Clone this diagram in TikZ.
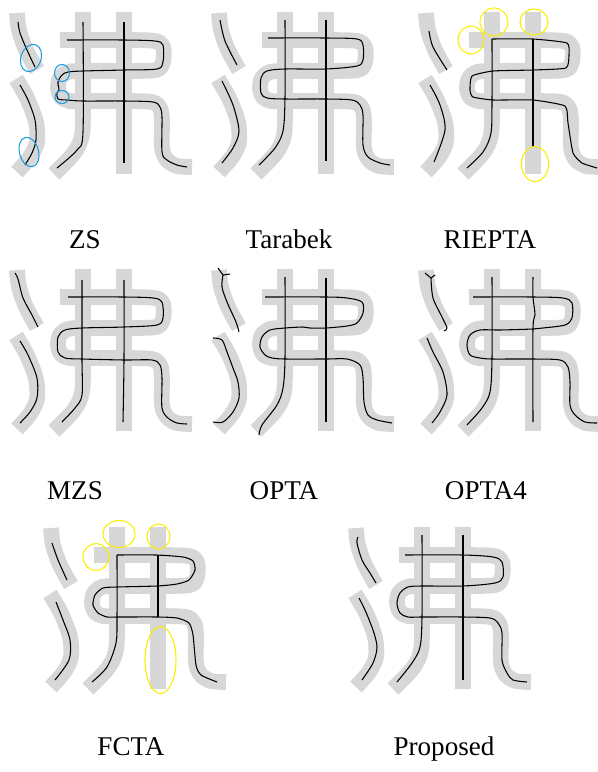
\documentclass[tikz,border=0pt]{standalone}
\usepackage{fontspec}
\setmainfont{Liberation Serif}

\definecolor{strokegray}{RGB}{215,215,215}
\definecolor{ringblue}{RGB}{30,155,225}
\definecolor{ringyellow}{RGB}{250,238,0}

% the grey character strokes, same in every panel
\newcommand{\glyphink}{%
  \draw[ink] plot[smooth,tension=0.5] coordinates {(17,13) (19,30) (26,50) (37,70)};
  \draw[ink] plot[smooth,tension=0.5] coordinates {(16,79) (27,98) (36,122) (37,142) (30,157) (17,172)};
  \draw[ink] plot[smooth,tension=0.5] coordinates {(83,12) (83,100) (82,135) (74,153) (54,174)};
  \draw[ink] (124,12) -- (124,174);
  \draw[ink] plot[smooth,tension=0.5] coordinates {(60,40) (124,40) (155,41) (163,47) (163,62) (156,70)
    (124,71) (83,71) (68,72) (60,78) (58,88) (61,97) (69,101) (83,101) (124,101) (152,102) (160,108)
    (162,120) (162,148) (167,160) (177,166) (192,167)};
}

\begin{document}
\begin{tikzpicture}[x=0.75pt,y=-0.75pt,
    ink/.style={line width=11.8pt,strokegray,line cap=butt,line join=round},
    skel/.style={line width=0.8pt,black,line join=round},
    bluering/.style={line width=0.8pt,ringblue},
    yellowring/.style={line width=0.8pt,ringyellow},
    lbl/.style={font=\fontsize{20.3}{24}\selectfont,anchor=base,inner sep=0pt}]
  \useasboundingbox (0,0) rectangle (597,772);

  % ZS
  \begin{scope}
    \glyphink
    \draw[skel] plot[smooth,tension=0.5] coordinates {(18,22) (20,33) (27,50) (35,67)};
    \draw[skel] plot[smooth,tension=0.5] coordinates {(20,85) (28,100) (35,120) (36,140) (32,153) (25,165)};
    \draw[skel] plot[smooth,tension=0.5] coordinates {(83,22) (83,132) (77,150) (57,168)};
    \draw[skel] (124,22) -- (124,163);
    \draw[skel] plot[smooth,tension=0.5] coordinates {(67,40) (124,40) (155,41) (163,45) (163,62) (157,69)
      (124,70) (83,71) (68,72) (62,75) (58,82) (59,90) (57,93) (58,99) (67,100) (83,101) (124,101)
      (153,102) (160,107) (162,117) (162,152) (167,160) (177,165) (187,167)};
    \draw[bluering,rotate around={-20:(31,58)}] (31,58) ellipse [x radius=10, y radius=14];
    \draw[bluering] (62,73) ellipse [x radius=7.5, y radius=8.5];
    \draw[bluering] (62,97) ellipse [x radius=7, y radius=6.5];
    \draw[bluering,rotate around={15:(29,152)}] (29,152) ellipse [x radius=9.5, y radius=15];
  \end{scope}
  \node[lbl] (zs) at (85,248) {ZS};

  % Tarabek
  \begin{scope}[shift={(202,0)}]
    \glyphink
    \draw[skel] plot[smooth,tension=0.5] coordinates {(18,20) (23,41) (35,65)};
    \draw[skel] plot[smooth,tension=0.5] coordinates {(20,81) (31,105) (37,131) (31,148) (20,163)};
    \draw[skel] plot[smooth,tension=0.5] coordinates {(83,20) (83,98) (81,131) (73,148) (57,165)};
    \draw[skel] (124,20) -- (124,161);
    \draw[skel] plot[smooth,tension=0.5] coordinates {(66,38) (124,38) (155,39) (161,45) (161,60) (155,66)
      (124,69) (83,69) (65,71) (59,78) (59,93) (65,98) (83,99) (124,99) (150,100) (158,105)
      (161,115) (161,145) (166,157) (178,163) (188,165)};
  \end{scope}
  \node[lbl] (tarabek) at (289,248) {Tarabek};

  % RIEPTA
  \begin{scope}[shift={(409,0)}]
    \glyphink
    \draw[skel] plot[smooth,tension=0.5] coordinates {(20,31) (24,47) (38,70)};
    \draw[skel] plot[smooth,tension=0.5] coordinates {(21,85) (31,105) (36,130) (25,162)};
    \draw[skel] plot[smooth,tension=0.5] coordinates {(83,39) (83,100) (82,133) (74,152) (58,168)};
    \draw[skel] (124,39) -- (124,147);
    \draw[skel] plot[smooth,tension=0.3] coordinates {(83,39) (124,39) (158,43) (160,55) (157,68) (124,70)
      (84,71) (63,76) (61,90) (64,97) (84,100) (124,100) (156,106) (159,123) (164,153) (173,163) (188,168)};
    \draw[yellowring] (62,40) ellipse [x radius=13, y radius=14];
    \draw[yellowring] (85,22) ellipse [x radius=14, y radius=14];
    \draw[yellowring] (125,22) ellipse [x radius=14, y radius=13];
    \draw[yellowring] (126,164) ellipse [x radius=13.5, y radius=17.5];
  \end{scope}
  \node[lbl] (riepta) at (490,248) {RIEPTA};

  % MZS
  \begin{scope}[shift={(0,257)}]
    \glyphink
    \draw[skel] plot[smooth,tension=0.5] coordinates {(15,16) (18,22) (23,41) (32,58) (38,70)};
    \draw[skel] plot[smooth,tension=0.5] coordinates {(20,84) (28,98) (37,121) (37,141) (30,155) (20,166)};
    \draw[skel] plot[smooth,tension=0.5] coordinates {(82,23) (82,101) (82,138) (75,151) (62,165)};
    \draw[skel] plot[smooth,tension=0.5] coordinates {(124,23) (124,103) (123,165)};
    \draw[skel] plot[smooth,tension=0.5] coordinates {(68,40) (124,40) (153,41) (162,45) (163,61) (157,68)
      (124,70) (82,71) (65,73) (58,80) (58,95) (65,101) (82,102) (124,103) (152,103) (160,108)
      (162,121) (162,151) (168,161) (177,166) (187,167)};
  \end{scope}
  \node[lbl] (mzs) at (75,499) {MZS};

  % OPTA
  \begin{scope}[shift={(202,257)}]
    \glyphink
    \draw[skel] (16,11) -- (21,18) -- (28,17);
    \draw[skel] plot[smooth,tension=0.5] coordinates {(21,18) (20,30) (25,45) (34,65) (37,75)};
    \draw[skel] plot[smooth,tension=0.5] coordinates {(11,81) (20,83) (25,95) (31,111) (36,125) (37,141)
      (31,155) (21,165) (11,165)};
    \draw[skel] plot[smooth,tension=0.5] coordinates {(83,20) (83,101) (81,131) (75,148) (60,168) (57,178)};
    \draw[skel] (124,21) -- (124,165);
    \draw[skel] plot[smooth,tension=0.5] coordinates {(63,40) (124,40) (145,41) (160,45) (161,56) (155,66)
      (145,69) (124,71) (108,71) (101,70) (83,71) (68,73) (60,80) (58,90) (63,98) (70,101) (83,102)
      (124,102) (145,102) (158,108) (161,121) (162,145) (166,158) (175,163) (190,166)};
  \end{scope}
  \node[lbl] (opta) at (284,499) {OPTA};

  % OPTA4
  \begin{scope}[shift={(409,257)}]
    \glyphink
    \draw[skel] (16,16) -- (22,21) -- (26,18);
    \draw[skel] plot[smooth,tension=0.5] coordinates {(22,21) (24,41) (33,60) (38,71) (35,74)};
    \draw[skel] plot[smooth,tension=0.5] coordinates {(18,81) (24,95) (34,115) (38,138) (31,155) (23,166)};
    \draw[skel] plot[smooth,tension=0.5] coordinates {(83,20) (83,101) (81,135) (73,151) (58,168)};
    \draw[skel] plot[smooth,tension=0.5] coordinates {(124,20) (124,40) (126,58) (124,72) (124,165)};
    \draw[skel] plot[smooth,tension=0.5] coordinates {(64,40) (124,40) (154,41) (163,46) (163,61) (156,68)
      (134,71) (124,72) (91,73) (71,73) (61,78) (58,88) (61,98) (71,101) (83,102) (124,102)
      (151,103) (159,110) (161,125) (161,148) (166,158) (176,165) (188,166)};
  \end{scope}
  \node[lbl] (optafour) at (486,499) {OPTA4};

  % FCTA
  \begin{scope}[shift={(34,515)}]
    \glyphink
    \draw[skel] plot[smooth,tension=0.5] coordinates {(18,28) (24,45) (33,65)};
    \draw[skel] plot[smooth,tension=0.5] coordinates {(22,87) (29,105) (36,125) (35,145) (21,165)};
    \draw[skel] plot[smooth,tension=0.5] coordinates {(83,40) (83,102) (82,128) (73,152) (58,167)};
    \draw[skel] (124,40) -- (124,102);
    \draw[skel] plot[smooth,tension=0.4] coordinates {(83,40) (122,40) (149,42) (159,46) (161,55) (155,65)
      (143,69) (123,71) (83,72) (69,73) (61,80) (59,90) (64,98) (73,102) (83,102) (124,102)
      (143,103) (155,108) (159,120) (162,150) (167,160) (183,167)};
    \draw[yellowring] (62,42) ellipse [x radius=13, y radius=13.5];
    \draw[yellowring] (85,19) ellipse [x radius=16, y radius=13.5];
    \draw[yellowring] (124.5,21.5) ellipse [x radius=11.5, y radius=12.5];
    \draw[yellowring] (126.5,145) ellipse [x radius=15.5, y radius=33.5];
  \end{scope}
  \node[lbl] (fcta) at (131,755) {FCTA};

  % Proposed
  \begin{scope}[shift={(339,515)}]
    \glyphink
    \draw[skel] plot[smooth,tension=0.5] coordinates {(19,22) (18,28) (23,45) (31,58) (37,68)};
    \draw[skel] plot[smooth,tension=0.5] coordinates {(20,83) (26,95) (34,115) (38,132) (34,148) (23,165)};
    \draw[skel] plot[smooth,tension=0.5] coordinates {(83,20) (83,102) (81,132) (73,148) (58,167)};
    \draw[skel] (124,20) -- (124,165);
    \draw[skel] plot[smooth,tension=0.5] coordinates {(66,40) (124,40) (154,42) (163,47) (164,62) (156,68)
      (124,71) (83,71) (69,72) (61,78) (58,88) (61,98) (69,102) (83,102) (124,102) (151,103)
      (159,108) (163,118) (163,145) (168,158) (174,165) (188,167)};
  \end{scope}
  \node[lbl] (proposed) at (444,755) {Proposed};
\end{tikzpicture}
\end{document}
